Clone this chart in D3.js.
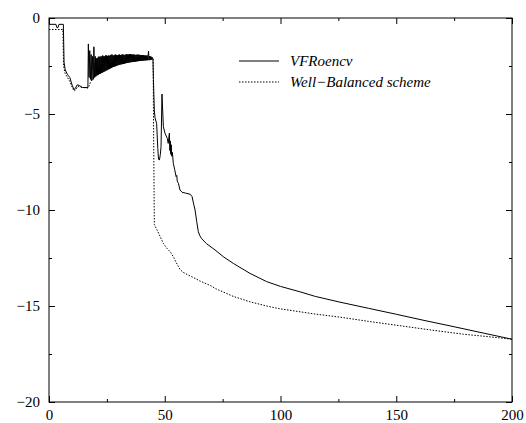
<!DOCTYPE html>
<html>
<head>
<meta charset="utf-8">
<script src="https://cdn.jsdelivr.net/npm/d3@7"></script>
<style>
    body { margin: 0; background: #ffffff; }
    svg { display: block; }
</style>
</head>
<body>
<div id="chart"></div>
<script>
// series, [x, y]
let vfroencv = [
    [0, -0.33], [3.0, -0.33], [3.4, -0.5], [3.9, -0.5], [4.3, -0.33], [6.2, -0.33],
    [6.5, -2.3], [7, -2.7], [8, -2.95], [9, -3.1], [10, -3.5], [10.8, -3.72], [11.3, -3.68],
    [12.2, -3.48], [13.2, -3.52], [14.5, -3.62], [16.8, -3.62],
    [17.0, -1.35], [17.3, -3.1], [17.6, -1.7], [17.9, -3.2], [18.2, -1.9], [18.5, -3.25],
    [18.8, -2.0], [19.1, -3.2], [19.4, -1.5], [19.7, -3.1], [20.0, -2.0], [20.2, -3.05],
    [20.4, -2.1], [20.6, -3.0], [20.8, -2.1], [21.0, -2.98], [21.2, -2.05], [21.4, -2.95],
    [21.6, -2.0], [21.8, -2.92], [22.0, -2.05], [22.2, -2.9], [22.4, -2.0], [22.6, -2.87],
    [22.8, -2.0], [23.0, -2.85], [23.2, -1.95], [23.4, -2.82], [23.6, -2.0], [23.8, -2.8],
    [24.0, -2.0], [24.2, -2.77], [24.4, -1.95], [24.6, -2.75], [24.8, -1.95], [25.0, -2.72],
    [25.2, -1.98], [25.4, -2.7], [25.6, -1.95], [25.8, -2.67], [26.0, -1.97], [26.2, -2.65],
    [26.4, -1.95], [26.6, -2.62], [26.8, -1.92], [27.0, -2.6], [27.2, -1.9], [27.4, -2.57],
    [27.6, -1.95], [27.8, -2.55], [28.0, -1.95], [28.2, -2.53], [28.4, -1.92], [28.6, -2.52],
    [28.8, -1.9], [29.0, -2.5], [29.2, -1.93], [29.4, -2.48], [29.6, -1.95], [29.8, -2.46],
    [30.0, -1.92], [30.2, -2.45], [30.4, -1.9], [30.6, -2.43], [30.8, -1.93], [31.0, -2.42],
    [31.2, -1.92], [31.4, -2.41], [31.6, -1.9], [31.8, -2.4], [32.0, -1.9], [32.2, -2.39],
    [32.4, -1.93], [32.6, -2.38], [32.8, -1.92], [33.0, -2.36], [33.2, -1.9], [33.4, -2.35],
    [33.6, -1.88], [33.8, -2.34], [34.0, -1.9], [34.2, -2.33], [34.4, -1.9], [34.6, -2.32],
    [34.8, -1.89], [35.0, -2.31], [35.2, -1.88], [35.4, -2.3], [35.6, -1.9], [35.8, -2.3],
    [36.0, -1.9], [36.2, -2.29], [36.4, -1.91], [36.6, -2.28], [36.8, -1.9], [37.0, -2.28],
    [37.2, -1.92], [37.4, -2.27], [37.6, -1.92], [37.8, -2.26], [38.0, -1.91], [38.2, -2.25],
    [38.4, -1.9], [38.6, -2.25], [38.8, -1.92], [39.0, -2.24], [39.2, -1.92], [39.4, -2.24],
    [39.6, -1.93], [39.8, -2.23], [40.0, -1.93], [40.2, -2.23], [40.4, -1.94], [40.6, -2.22],
    [40.8, -1.94], [41.0, -2.22], [41.2, -1.95], [41.4, -2.21], [41.6, -1.95], [41.8, -2.21],
    [42.0, -1.96], [42.2, -2.2], [42.4, -1.95], [42.6, -2.2], [42.8, -1.96], [43.0, -1.72],
    [43.2, -2.2], [43.4, -1.98], [43.6, -2.19], [43.8, -2.0], [44.0, -2.18], [44.2, -2.02],
    [44.4, -2.17], [44.6, -2.05], [44.9, -2.15],
    [45.1, -3.2], [45.5, -4.8], [45.8, -5.2], [46.5, -5.5], [47.0, -6.8], [47.3, -7.35],
    [47.7, -7.4], [48.1, -7.1], [48.4, -6.7], [48.8, -3.96], [49.4, -5.66], [50.1, -6.0],
    [51.1, -6.27], [51.5, -6.53], [51.8, -6.2], [52.0, -6.0], [52.2, -6.9], [52.4, -6.4],
    [52.6, -7.1], [52.8, -6.6], [53.0, -7.2], [53.3, -7.0], [53.7, -7.57], [54.3, -7.9],
    [54.9, -8.26], [55.2, -8.2], [55.4, -8.5], [55.9, -8.61], [56.6, -8.96], [57.5, -9.08],
    [59, -9.12], [61, -9.18], [61.8, -9.3], [62.5, -9.7], [63.1, -10.0], [63.8, -10.6],
    [64.5, -11.13], [65.2, -11.35], [66, -11.5], [68, -11.75], [71.7, -12.08], [75.5, -12.45],
    [79.6, -12.78], [86.8, -13.3], [94, -13.73], [100, -13.98], [108.4, -14.26], [115, -14.5],
    [125.7, -14.8], [138, -15.12], [150, -15.43], [162, -15.75], [175, -16.08], [188, -16.42],
    [200, -16.73]
];

let wellBalanced = [
    [0, -0.6], [6.0, -0.6], [6.3, -2.5], [7, -2.9], [8, -3.1], [9, -3.3], [10, -3.6],
    [10.8, -3.8], [11.5, -3.75], [12.5, -3.55], [13.5, -3.6], [16.8, -3.65], [17.5, -3.5],
    [18, -3.3], [20, -3.0], [22, -2.8], [25, -2.6], [28, -2.45], [32, -2.33], [36, -2.25],
    [40, -2.18], [44, -2.12], [45.0, -2.1], [45.1, -4.5], [45.5, -10.75], [46.5, -11.0],
    [47.5, -11.25], [49.4, -11.74], [51, -12.0], [52.5, -12.2], [53.7, -12.43], [55, -12.75],
    [56.6, -13.1], [58, -13.25], [60, -13.38], [63.1, -13.56], [65.2, -13.7], [70, -13.95],
    [72, -14.1], [79.6, -14.5], [86.8, -14.78], [94, -15.0], [100, -15.15], [108.4, -15.3],
    [115, -15.42], [125.7, -15.58], [138, -15.8], [150, -16.0], [165, -16.25], [179, -16.47],
    [190, -16.6], [200, -16.73]
];

let xTicks = [0, 50, 100, 150, 200];
let xMinorTicks = [25, 75, 125, 175];
let yTicks = [0, -5, -10, -15, -20];
let yMinorTicks = [-2.5, -7.5, -12.5, -17.5];
let legendLabels = ["VFRoencv", "Well\u2212Balanced scheme"];

let serif = "Liberation Serif";
let width = 526, height = 423;
let margin = { top: 18, right: 14, bottom: 21, left: 49 };
let innerW = width - margin.left - margin.right;
let innerH = height - margin.top - margin.bottom;

let svg = d3.select("#chart").append("svg")
    .attr("width", width)
    .attr("height", height);

let g = svg.append("g")
    .attr("transform", "translate(" + margin.left + "," + margin.top + ")");

let x = d3.scaleLinear().domain([0, 200]).range([0, innerW]);
let y = d3.scaleLinear().domain([-20, 0]).range([innerH, 0]);

let fmt = d => d < 0 ? "\u2212" + Math.abs(d) : "" + d;

// ticks point inward, mirrored on top and right
function tickAxis(axisFn, scale, values, size, transform, labels) {
    let a = g.append("g").attr("transform", transform)
        .call(axisFn(scale).tickValues(values).tickSize(size).tickFormat(labels ? fmt : ""));
    a.attr("font-family", serif).attr("font-size", 15);
    a.select(".domain").remove();
    a.selectAll("line").attr("stroke", "#000").attr("stroke-width", 1);
    a.selectAll("text").attr("fill", "#000");
    return a;
}

tickAxis(d3.axisBottom, x, xTicks, -6, "translate(0," + innerH + ")", true)
    .selectAll("text").attr("y", 7).attr("dy", "0.72em");
tickAxis(d3.axisBottom, x, xMinorTicks, -3, "translate(0," + innerH + ")", false);
tickAxis(d3.axisTop, x, xTicks, -6, "translate(0,0)", false);
tickAxis(d3.axisTop, x, xMinorTicks, -3, "translate(0,0)", false);

tickAxis(d3.axisLeft, y, yTicks, -6, "translate(0,0)", true)
    .selectAll("text").attr("x", -9);
tickAxis(d3.axisLeft, y, yMinorTicks, -3, "translate(0,0)", false);
tickAxis(d3.axisRight, y, yTicks, -6, "translate(" + innerW + ",0)", false);
tickAxis(d3.axisRight, y, yMinorTicks, -3, "translate(" + innerW + ",0)", false);

g.append("rect")
    .attr("x", 0).attr("y", 0)
    .attr("width", innerW).attr("height", innerH)
    .attr("fill", "none")
    .attr("stroke", "#000")
    .attr("stroke-width", 1);

let line = d3.line()
    .x(d => x(d[0]))
    .y(d => y(d[1]));

g.append("path")
    .datum(wellBalanced)
    .attr("d", line)
    .attr("fill", "none")
    .attr("stroke", "#000")
    .attr("stroke-width", 1)
    .attr("stroke-dasharray", "1.5,1.5");

g.append("path")
    .datum(vfroencv)
    .attr("d", line)
    .attr("fill", "none")
    .attr("stroke", "#000")
    .attr("stroke-width", 1);

// legend
let legend = svg.append("g").attr("transform", "translate(239,61)");
legend.selectAll("line")
    .data(legendLabels)
    .join("line")
    .attr("x1", 0).attr("x2", 40)
    .attr("y1", (d, i) => i * 21).attr("y2", (d, i) => i * 21)
    .attr("stroke", "#000")
    .attr("stroke-width", 1)
    .attr("stroke-dasharray", (d, i) => i === 1 ? "1.5,1.5" : null);
legend.selectAll("text")
    .data(legendLabels)
    .join("text")
    .attr("x", 51)
    .attr("y", (d, i) => i * 21 + 5)
    .attr("font-family", serif)
    .attr("font-size", 15)
    .attr("font-style", "italic")
    .attr("fill", "#000")
    .text(d => d);
</script>
</body>
</html>
